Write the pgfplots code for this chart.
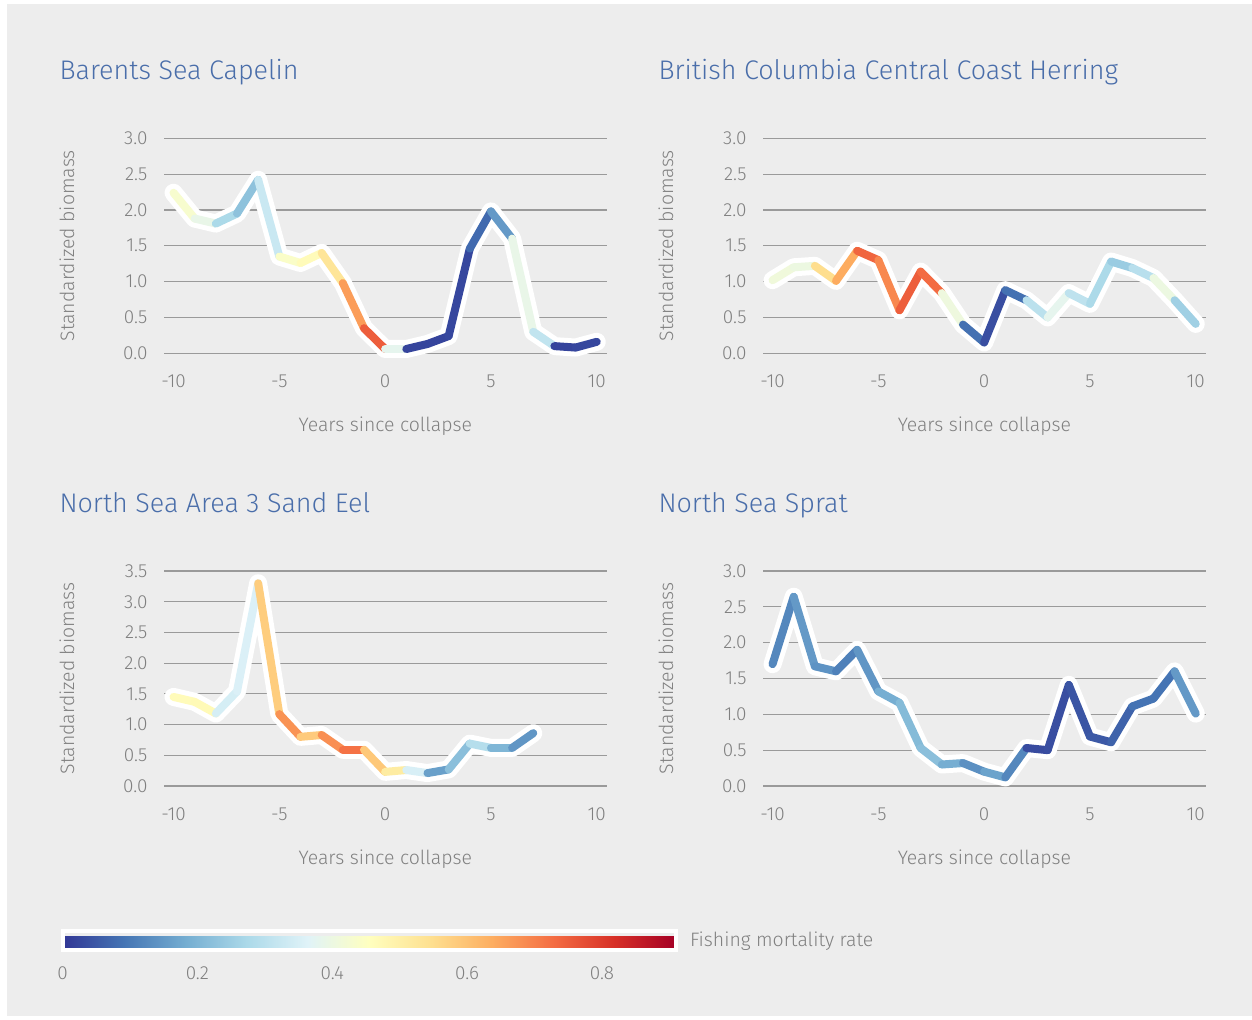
\documentclass[border=0pt]{standalone}
\usepackage{pgfplots}
\pgfplotsset{compat=1.18}
\usepackage{pgfplotstable}
\usepackage{fontspec}
\setmainfont{Fira Sans Light}
\definecolor{bggray}{HTML}{EDEDED}
\definecolor{gridgray}{HTML}{9A9A9A}
\definecolor{labgray}{HTML}{808080}
\definecolor{titleblue}{HTML}{4A6EAA}
\pgfplotsset{colormap={rdylbu}{rgb255=(49,54,149) rgb255=(69,117,180) rgb255=(116,173,209) rgb255=(171,217,233) rgb255=(224,243,248) rgb255=(255,255,191) rgb255=(254,224,144) rgb255=(253,174,97) rgb255=(244,109,67) rgb255=(215,48,39) rgb255=(165,0,38)}}

\pgfplotstableread{
x y f
-10 2.24 0.38
-9 1.88 0.48
-8 1.81 0.30
-7 1.95 0.25
-6 2.42 0.20
-5 1.35 0.45
-4 1.26 0.43
-3 1.40 0.50
-2 0.98 0.56
-1 0.35 0.76
0 0.06 0.74
1 0.06 0.02
2 0.13 0.02
3 0.24 0.02
4 1.46 0.03
5 1.98 0.12
6 1.60 0.18
7 0.30 0.60
8 0.10 0.02
9 0.08 0.02
10 0.16 0.03
}\dataA
\pgfplotstableread{
x y f
-10 1.02 0.64
-9 1.20 0.18
-8 1.22 0.62
-7 1.01 0.48
-6 1.43 0.80
-5 1.30 0.68
-4 0.60 0.70
-3 1.14 0.80
-2 0.84 0.66
-1 0.40 0.15
0 0.15 0.02
1 0.88 0.05
2 0.74 0.12
3 0.50 0.48
4 0.84 0.28
5 0.69 0.33
6 1.28 0.22
7 1.19 0.27
8 1.05 0.32
9 0.74 0.48
10 0.41 0.03
}\dataB
\pgfplotstableread{
x y f
-10 1.45 0.35
-9 1.37 0.58
-8 1.18 0.36
-7 1.54 0.33
-6 3.30 0.38
-5 1.17 0.78
-4 0.80 0.57
-3 0.83 0.60
-2 0.59 0.76
-1 0.59 0.68
0 0.23 0.50
1 0.26 0.52
2 0.21 0.18
3 0.27 0.14
4 0.69 0.30
5 0.62 0.28
6 0.62 0.12
7 0.86 0.17
}\dataC
\pgfplotstableread{
x y f
-10 1.70 0.12
-9 2.64 0.12
-8 1.67 0.18
-7 1.60 0.10
-6 1.90 0.12
-5 1.32 0.17
-4 1.16 0.20
-3 0.53 0.22
-2 0.30 0.22
-1 0.32 0.15
0 0.20 0.12
1 0.12 0.21
2 0.53 0.03
3 0.50 0.03
4 1.41 0.04
5 0.69 0.05
6 0.61 0.05
7 1.11 0.08
8 1.22 0.10
9 1.60 0.08
10 1.01 0.22
}\dataD

\pgfplotsset{
  panel/.style={
    scale only axis, width=442.7bp, height=215bp,
    xmin=-10.45, xmax=10.47, ymin=0,
    axis line style={draw=none}, major tick length=0pt, tick style={draw=none},
    ymajorgrids, grid style={gridgray, line width=1.2bp},
    xtick={-10,-5,0,5,10}, xticklabels={-10,-5,0,5,10},
    ytick distance=0.5,
    /pgf/number format/assume math mode=true,
    yticklabel={\pgfmathprintnumber[fixed,fixed zerofill,precision=1]{\tick}},
    ticklabel style={font=\fontsize{19}{22}\selectfont, text=labgray},
    xticklabel style={yshift=-18bp},
    yticklabel style={xshift=-13bp},
    xlabel={Years since collapse}, ylabel={Standardized biomass},
    label style={font=\fontsize{19.5}{22}\selectfont, text=labgray},
    xlabel style={at={(rel axis cs:0.5,0)}, anchor=center, yshift=-73bp},
    ylabel style={at={(rel axis cs:0,0.5)}, anchor=center, yshift=97bp},
    title style={at={(rel axis cs:0,1)}, anchor=base west, xshift=-108bp, yshift=53bp, font=\fontsize{27}{31}\selectfont, text=titleblue},
    colormap name=rdylbu, point meta min=0, point meta max=0.909,
    clip=false,
  },
  outline/.style={white, line width=18bp, line join=round, line cap=round},
  colline/.style={mesh, shader=interp, point meta=explicit, line width=8bp, line join=round, line cap=round},
}

\begin{document}
\begin{tikzpicture}[x=1bp, y=1bp]
\fill[white] (0,0) rectangle (1252,1020);
\fill[bggray] (7,4) rectangle (1252,1016);

\begin{axis}[panel, at={(164bp,666.7bp)}, anchor=south west, ymax=3, title={Barents Sea Capelin}]
\addplot[outline] table[x=x,y=y]{\dataA};
\addplot[colline] table[x=x,y=y,meta=f]{\dataA};
\end{axis}

\begin{axis}[panel, at={(763bp,666.7bp)}, anchor=south west, ymax=3, title={British Columbia Central Coast Herring}]
\addplot[outline] table[x=x,y=y]{\dataB};
\addplot[colline] table[x=x,y=y,meta=f]{\dataB};
\end{axis}

\begin{axis}[panel, at={(164bp,234bp)}, anchor=south west, ymax=3.5, title={North Sea Area 3 Sand Eel}]
\addplot[outline] table[x=x,y=y]{\dataC};
\addplot[colline] table[x=x,y=y,meta=f]{\dataC};
\end{axis}

\begin{axis}[panel, at={(763bp,234bp)}, anchor=south west, ymax=3, title={North Sea Sprat}]
\addplot[outline] table[x=x,y=y]{\dataD};
\addplot[colline] table[x=x,y=y,meta=f]{\dataD};
\end{axis}

\begin{axis}[at={(62.5bp,78.3bp)}, anchor=south west, scale only axis, width=613bp, height=19bp,
  hide axis, xmin=0, xmax=1, ymin=0, ymax=1,
  colormap name=rdylbu, point meta min=0, point meta max=0.909,
  colorbar horizontal,
  colorbar style={at={(parent axis.south west)}, anchor=south west,
    width=613bp, height=19bp,
    axis line style={draw=white, line width=4bp},
    major tick length=0pt, tick style={draw=none},
    xtick={0,0.2,0.4,0.6,0.8},
    /pgf/number format/assume math mode=true,
    xticklabel style={font=\fontsize{19}{22}\selectfont, text=labgray, yshift=-13bp},
    xlabel={Fishing mortality rate},
    xlabel style={at={(rel axis cs:1,0.5)}, anchor=west, xshift=11bp, yshift=0bp, font=\fontsize{19.5}{22}\selectfont, text=labgray},
  }]
\addplot[draw=none] coordinates {(0,0)};
\end{axis}
\end{tikzpicture}
\end{document}
